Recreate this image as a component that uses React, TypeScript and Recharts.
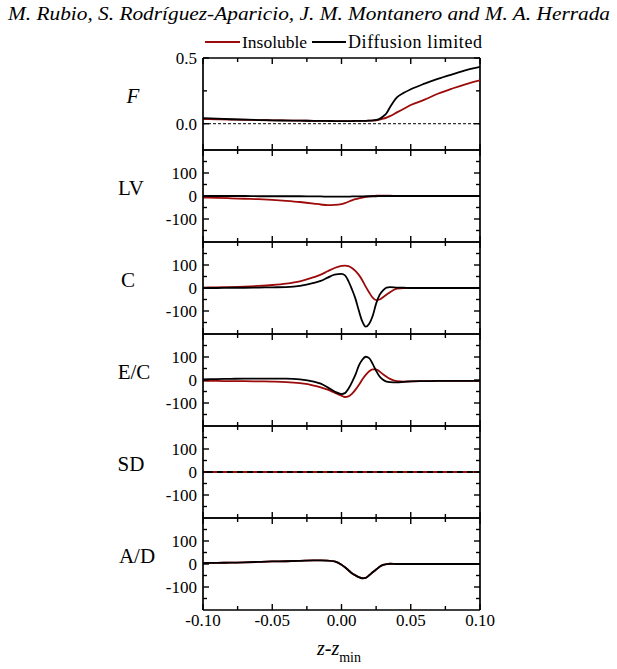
import React from 'react';
import { LineChart, Line, XAxis, YAxis, ReferenceLine } from 'recharts';

// z - z_min positions (denser around the neck)
const zValues = [
  -0.1, -0.09, -0.08, -0.07, -0.06, -0.05, -0.04, -0.03, -0.02, -0.015, -0.01, -0.005,
  0, 0.0025, 0.005, 0.0075, 0.01, 0.0125, 0.015, 0.0175, 0.02, 0.0225, 0.025, 0.0275,
  0.03, 0.0325, 0.035, 0.04, 0.045, 0.05, 0.06, 0.07, 0.08, 0.09, 0.1,
];

const fInsoluble = [
  0.035, 0.034, 0.032, 0.03, 0.028, 0.026, 0.025, 0.023, 0.022, 0.021, 0.021, 0.02,
  0.02, 0.02, 0.02, 0.02, 0.021, 0.021, 0.022, 0.022, 0.023, 0.024, 0.026, 0.031,
  0.038, 0.047, 0.058, 0.086, 0.114, 0.142, 0.183, 0.23, 0.268, 0.302, 0.33,
];
const fDiffusion = [
  0.042, 0.038, 0.034, 0.031, 0.028, 0.026, 0.024, 0.023, 0.022, 0.021, 0.021, 0.02,
  0.02, 0.02, 0.02, 0.02, 0.021, 0.021, 0.022, 0.022, 0.023, 0.025, 0.029, 0.037,
  0.055, 0.08, 0.125, 0.2, 0.235, 0.262, 0.305, 0.343, 0.376, 0.408, 0.432,
];

const lvInsoluble = [
  -7, -8, -10, -12, -14, -17, -21, -26, -33, -37, -40, -39,
  -35, -31, -25, -19, -14, -10, -7, -4, -2, 0, 1, 2,
  2, 1, 1, 0, 0, 0, 0, 0, 0, 0, 0,
];
const lvDiffusion = [
  0, 0, 0, 0, -1, -1, -1, -1, -2, -2, -3, -3,
  -3, -3, -3, -2, -2, -2, -2, -1, -1, -1, -1, 0,
  0, 0, 0, 0, 0, 0, 0, 0, 0, 0, 0,
];

const cInsoluble = [
  2, 3, 4, 6, 9, 13, 19, 29, 47, 58, 73, 87,
  96, 97, 95, 87, 74, 57, 34, 6, -20, -42, -53, -50,
  -40, -29, -18, -3, 0, 0, 0, 0, 0, 0, 0,
];
const cDiffusion = [
  0, 0, 1, 1, 2, 3, 4, 9, 22, 31, 45, 58,
  61, 55, 30, -5, -45, -98, -145, -168, -155, -122, -68, -30,
  -10, 2, 4, 2, 1, 0, 0, 0, 0, 0, 0,
];

const ecInsoluble = [
  -4, -4, -5, -5, -6, -7, -9, -14, -24, -32, -42, -55,
  -68, -74, -71, -60, -43, -22, 2, 22, 38, 46, 46, 37,
  25, 14, 5, -5, -7, -6, -5, -4, -4, -4, -4,
];
const ecDiffusion = [
  3, 4, 5, 6, 6, 6, 6, 3, -7, -16, -32, -50,
  -61, -57, -38, -10, 22, 62, 88, 101, 95, 70, 40, 15,
  1, -7, -9, -10, -8, -6, -5, -4, -4, -4, -4,
];

const sdInsoluble = [
  0, 0, 0, 0, 0, 0, 0, 0, 0, 0, 0, 0,
  0, 0, 0, 0, 0, 0, 0, 0, 0, 0, 0, 0,
  0, 0, 0, 0, 0, 0, 0, 0, 0, 0, 0,
];
const sdDiffusion = [
  0, 0, 0, 0, 0, 0, 0, 0, 0, 0, 0, 0,
  0, 0, 0, 0, 0, 0, 0, 0, 0, 0, 0, 0,
  0, 0, 0, 0, 0, 0, 0, 0, 0, 0, 0,
];

const adInsoluble = [
  4, 5, 6, 7, 9, 11, 12, 14, 16, 16, 15, 11,
  -3, -14, -27, -40, -49, -57, -62, -60, -49, -36, -24, -12,
  -4, -1, 1, 0, 0, 0, 0, 0, 0, 0, 0,
];
const adDiffusion = [
  4, 5, 6, 7, 9, 11, 12, 14, 16, 16, 15, 11,
  -3, -14, -27, -40, -49, -57, -62, -60, -49, -36, -24, -12,
  -4, -1, 1, 0, 0, 0, 0, 0, 0, 0, 0,
];

const panelNames = ['F', 'LV', 'C', 'E/C', 'SD', 'A/D'];
const insolubleSeries = [fInsoluble, lvInsoluble, cInsoluble, ecInsoluble, sdInsoluble, adInsoluble];
const diffusionSeries = [fDiffusion, lvDiffusion, cDiffusion, ecDiffusion, sdDiffusion, adDiffusion];

const xTicks = [-0.1, -0.075, -0.05, -0.025, 0, 0.025, 0.05, 0.075, 0.1];
const fTicks = [0, 0.25, 0.5];
const fLabelled = [0, 0.5];
const vTicks = [-150, -100, -50, 0, 50, 100, 150];
const vLabelled = [-100, 0, 100];

const RED = '#9c0a0a';
const FONT = 'Liberation Serif, Times New Roman, serif';
const txt = { fontFamily: FONT };
const PLOT_W = 277;
const PLOT_H = 92;
const PANEL_TOPS = [58, 150, 242, 334, 426, 518];
const LABEL_X = [133, 131, 128, 134, 131, 137];

const XTick = ({ x, y, payload, showLabel }: any) => {
  const v = payload.value;
  const major = Math.abs(Math.round(v * 1000) % 50) === 0;
  const len = major ? 6 : 4;
  return (
    <g>
      <line x1={x} y1={y} x2={x} y2={y - len} stroke="#000" strokeWidth={1.4} />
      <line x1={x} y1={y - PLOT_H} x2={x} y2={y - PLOT_H + len} stroke="#000" strokeWidth={1.4} />
      {showLabel && major && (
        <text x={x} y={y + 16} textAnchor="middle" style={txt} fontSize={17} fill="#000">
          {v.toFixed(2)}
        </text>
      )}
    </g>
  );
};

const YTick = ({ x, y, payload, labelled, digits }: any) => {
  const v = payload.value;
  const major = labelled.includes(v);
  const len = major ? 6 : 4;
  return (
    <g>
      <line x1={x} y1={y} x2={x + len} y2={y} stroke="#000" strokeWidth={1.4} />
      <line x1={x + PLOT_W - len} y1={y} x2={x + PLOT_W} y2={y} stroke="#000" strokeWidth={1.4} />
      {major && (
        <text x={x - 6} y={y + 6} textAnchor="end" style={txt} fontSize={17} fill="#000">
          {v.toFixed(digits)}
        </text>
      )}
    </g>
  );
};

const Panel = ({ idx }: { idx: number }) => {
  const isF = idx === 0;
  const isLast = idx === panelNames.length - 1;
  const domain = isF ? [-0.2, 0.5] : [-200, 200];
  const rows = zValues.map((z, i) => ({
    z,
    insoluble: insolubleSeries[idx][i],
    diffusion: diffusionSeries[idx][i],
  }));
  const isSD = panelNames[idx] === 'SD';
  return (
    <div style={{ position: 'absolute', left: 143, top: PANEL_TOPS[idx] - 10 }}>
      <LineChart width={367} height={PLOT_H + 40} data={rows} margin={{ top: 10, right: 30, bottom: 0, left: 0 }}>
        <XAxis
          dataKey="z"
          type="number"
          domain={[-0.1, 0.1]}
          ticks={xTicks}
          interval={0}
          allowDataOverflow
          height={30}
          tickSize={0}
          tickMargin={0}
          tickLine={false}
          axisLine={{ stroke: '#000', strokeWidth: 1.7 }}
          tick={(p: any) => <XTick {...p} showLabel={isLast} />}
        />
        <YAxis
          type="number"
          domain={domain}
          ticks={isF ? fTicks : vTicks}
          interval={0}
          allowDataOverflow
          width={60}
          tickSize={0}
          tickMargin={0}
          tickLine={false}
          axisLine={{ stroke: '#000', strokeWidth: 1.7 }}
          tick={(p: any) => (
            <YTick {...p} labelled={isF ? fLabelled : vLabelled} digits={isF ? 1 : 0} />
          )}
        />
        <ReferenceLine y={domain[1]} stroke="#000" strokeWidth={1.7} />
        <ReferenceLine x={0.1} stroke="#000" strokeWidth={1.7} />
        {isF && <ReferenceLine y={0} stroke="#000" strokeWidth={1} strokeDasharray="3 2" />}
        {isSD ? (
          <>
            <Line type="monotone" dataKey="diffusion" stroke="#000" strokeWidth={1.8} dot={false} isAnimationActive={false} />
            <Line type="monotone" dataKey="insoluble" stroke={RED} strokeWidth={2} strokeDasharray="4 6" dot={false} isAnimationActive={false} />
          </>
        ) : (
          <>
            <Line type="monotone" dataKey="insoluble" stroke={RED} strokeWidth={1.8} dot={false} isAnimationActive={false} />
            <Line type="monotone" dataKey="diffusion" stroke="#000" strokeWidth={1.8} dot={false} isAnimationActive={false} />
          </>
        )}
      </LineChart>
    </div>
  );
};

export default function App() {
  return (
    <div style={{ position: 'absolute', left: 0, top: 0, width: 617, height: 669, background: '#fff' }}>
      {panelNames.map((_, i) => (
        <Panel key={i} idx={i} />
      ))}
      <svg width={617} height={669} style={{ position: 'absolute', left: 0, top: 0, pointerEvents: 'none' }}>
        <text x={8} y={20} style={txt} fontStyle="italic" fontSize={19} textLength={602} lengthAdjust="spacingAndGlyphs">
          M. Rubio, S. Rodríguez-Aparicio, J. M. Montanero and M. A. Herrada
        </text>
        <line x1={205} y1={42} x2={240} y2={42} stroke={RED} strokeWidth={1.8} />
        <text x={242} y={48} style={txt} fontSize={17.5}>Insoluble</text>
        <line x1={312} y1={42} x2={346} y2={42} stroke="#000" strokeWidth={1.8} />
        <text x={348} y={48} style={txt} fontSize={18} textLength={134} lengthAdjust="spacing">Diffusion limited</text>
        {panelNames.map((name, i) => (
          <text
            key={name}
            x={LABEL_X[i]}
            y={PANEL_TOPS[i] + 45}
            textAnchor="middle"
            style={txt}
            fontSize={21}
            fontStyle={name === 'F' ? 'italic' : 'normal'}
          >
            {name}
          </text>
        ))}
        <text x={317} y={655} style={txt} fontStyle="italic" fontSize={20}>
          z-z
          <tspan fontStyle="normal" fontSize={14} dy={7}>min</tspan>
        </text>
      </svg>
    </div>
  );
}
